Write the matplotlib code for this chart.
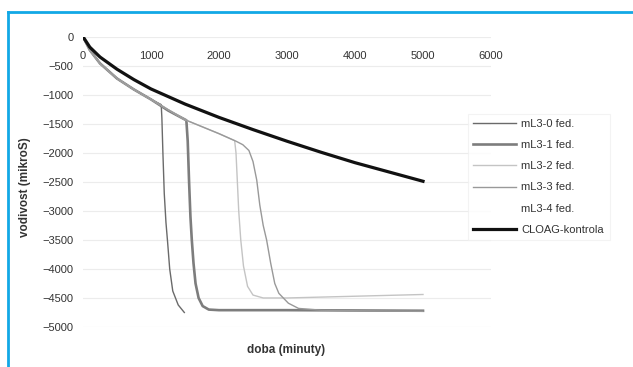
import numpy as np
import matplotlib
matplotlib.use("Agg")
import matplotlib.pyplot as plt
from matplotlib.lines import Line2D

plt.rcParams['font.family'] = ['Liberation Sans', 'DejaVu Sans']

# data (minutes, microS)
x_ml30 = [0, 100, 250, 500, 750, 1000, 1150, 1160, 1175, 1195, 1220, 1245, 1275, 1320, 1400, 1490]
y_ml30 = [0, -230, -460, -720, -910, -1080, -1170, -1400, -2000, -2700, -3200, -3550, -4000, -4380, -4620, -4750]

x_ml31 = [0, 100, 250, 500, 750, 1000, 1250, 1520, 1540, 1560, 1580, 1600, 1625, 1655, 1700, 1760, 1850, 2000, 3000, 4000, 5000]
y_ml31 = [0, -230, -460, -720, -910, -1080, -1270, -1440, -1800, -2500, -3100, -3500, -3900, -4250, -4500, -4640, -4700, -4710, -4710, -4715, -4720]

x_ml32 = [0, 100, 250, 500, 750, 1000, 1500, 2000, 2230, 2250, 2270, 2290, 2320, 2360, 2420, 2500, 2650, 3000, 4000, 5000]
y_ml32 = [0, -230, -460, -720, -910, -1080, -1430, -1670, -1790, -2000, -2500, -3000, -3500, -3950, -4300, -4450, -4500, -4500, -4470, -4440]

x_ml33 = [0, 100, 250, 500, 750, 1000, 1500, 2000, 2250, 2350, 2440, 2500, 2555, 2600, 2650, 2700, 2760, 2820, 2880, 3020, 3170, 3500, 4000, 5000]
y_ml33 = [0, -230, -460, -720, -910, -1080, -1430, -1670, -1800, -1860, -1960, -2150, -2470, -2900, -3250, -3500, -3900, -4250, -4420, -4590, -4680, -4710, -4720, -4730]

x_ml34 = []
y_ml34 = []

x_ctrl = [0, 100, 250, 500, 750, 1000, 1500, 2000, 2500, 3000, 3500, 4000, 4500, 5000]
y_ctrl = [0, -180, -350, -560, -740, -900, -1160, -1390, -1600, -1800, -1990, -2170, -2330, -2490]

labels = ["mL3-0 fed.", "mL3-1 fed.", "mL3-2 fed.", "mL3-3 fed.", "mL3-4 fed.", "CLOAG-kontrola"]

fig = plt.figure(figsize=(6.33, 3.67), dpi=100)
fig.patch.set_facecolor("white")
ax = fig.add_axes([83/633, 1-327/367, (491-83)/633, (327-36.7)/367])

ax.plot(x_ml30, y_ml30, color="#6a6a6a", lw=1.0, label=labels[0])
ax.plot(x_ml31, y_ml31, color="#7d7d7d", lw=1.9, label=labels[1])
ax.plot(x_ml32, y_ml32, color="#c4c4c4", lw=1.0, label=labels[2])
ax.plot(x_ml33, y_ml33, color="#999999", lw=1.0, label=labels[3])
ax.plot(x_ml34, y_ml34, color="none", lw=1.0, label=labels[4])
ax.plot(x_ctrl, y_ctrl, color="#111111", lw=2.3, label=labels[5])

ax.set_xlim(0, 6000)
ax.set_ylim(-5000, 0)
ax.set_xticks(range(0, 6001, 1000))
ax.set_yticks(range(-5000, 1, 500))
ax.yaxis.grid(True, color="#ececec", lw=0.8)
ax.set_axisbelow(True)
for s in ax.spines.values():
    s.set_visible(False)
ax.spines['bottom'].set_position(('data', 0))
ax.tick_params(axis="both", length=0, labelsize=8, labelcolor="#333333")
ax.tick_params(axis="x", pad=10)
ax.tick_params(axis="y", pad=7)

fig.text(286/633, 1-350/367, "doba (minuty)", ha="center", va="center",
         fontsize=8.5, fontweight="bold", color="#333333")
fig.text(25/633, 1-187/367, "vodivost (mikroS)", ha="center", va="center",
         rotation=90, fontsize=8.5, fontweight="bold", color="#333333")

leg = fig.legend(loc="upper left", bbox_to_anchor=(462/633, 1-108/367),
                 fontsize=8, frameon=True, fancybox=False, handlelength=3.9,
                 handletextpad=0.45, labelspacing=1.0, borderpad=0.5)
leg.get_frame().set_edgecolor("#f0f0f0")
leg.get_frame().set_linewidth(0.8)
for t in leg.get_texts():
    t.set_color("#333333")

# blue frame round the figure
blue = "#12a8e6"
fig.add_artist(Line2D([8/633, 1], [1-12/367, 1-12/367], color=blue, lw=2.0, transform=fig.transFigure))
fig.add_artist(Line2D([8/633, 8/633], [0, 1-12/367], color=blue, lw=2.0, transform=fig.transFigure))

fig.savefig("out.png", dpi=100)
